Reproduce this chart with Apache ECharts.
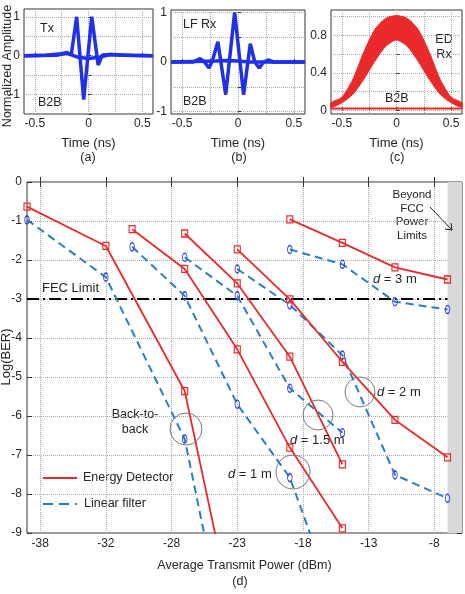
<!DOCTYPE html>
<html>
<head>
<meta charset="utf-8">
<script src="https://cdn.jsdelivr.net/npm/echarts@6/dist/echarts.min.js"></script>
<style>
  html, body { margin: 0; padding: 0; background: #fff; }
  #main { width: 465px; height: 594px; }
</style>
</head>
<body>
<div id="main"></div>
<script>
// ---- data: pulse waveforms (time in ns) ----
const txTime = [-0.6, -0.4, -0.25, -0.2, -0.16, -0.11, -0.045, 0.03, 0.09, 0.13, 0.2, 0.4, 0.6];
const txPulse = [0, 0.01, 0.05, 0.08, 0.03, 1.0, -1.13, 1.0, -0.24, 0.02, 0.03, 0.01, 0];
const txBaseTime = [-0.6, -0.3, -0.2, -0.1, 0, 0.1, 0.2, 0.3, 0.6];
const txBase = [0, 0.01, 0.06, -0.04, -0.07, -0.04, 0.03, 0.01, 0];

const lfTime = [-0.6, -0.4, -0.34, -0.3, -0.26, -0.23, -0.18, -0.11, -0.03, 0.05, 0.11, 0.15, 0.19, 0.23, 0.27, 0.32, 0.6];
const lfPulse = [0, 0, 0.07, 0, -0.12, 0.02, 0.41, -0.66, 1.0, -0.66, 0.37, 0, -0.12, 0, 0.04, 0, 0];
const lfBaseTime = [-0.6, -0.2, -0.1, 0, 0.1, 0.2, 0.6];
const lfBase = [0, 0.02, 0.03, 0.02, 0, 0, 0];

const edTime = [-0.6, -0.5, -0.4, -0.3, -0.2, -0.1, 0, 0.1, 0.2, 0.3, 0.4, 0.5, 0.6];
const edUpper = [0.08, 0.14, 0.33, 0.62, 0.86, 0.98, 1.01, 0.98, 0.86, 0.62, 0.33, 0.14, 0.08];
const edLower = [0.03, 0.08, 0.17, 0.33, 0.52, 0.68, 0.75, 0.68, 0.52, 0.33, 0.17, 0.08, 0.03];
const edBaseTime = [-0.6, 0.6];
const edBase = [0.02, 0.02];

// ---- data: Log(BER) vs transmit power (dBm) ----
const powerTicks = [-38, -33, -28, -23, -18, -13, -8];
const powerTickLabels = ['-38', '-32', '-28', '-23', '-18', '-13', '-8'];
const fecLimit = -3;

const edB2B = [[-39, -0.63], [-33, -1.64], [-27, -5.36], [-24, -10.1]];
const lfB2B = [[-39, -0.97], [-33, -2.44], [-27, -6.59], [-24, -11.5]];
const ed1m = [[-31, -1.21], [-27, -2.23], [-23, -4.29], [-19, -6.81], [-15, -8.88]];
const lf1m = [[-31, -1.66], [-27, -2.92], [-23, -5.70], [-19, -7.58], [-15, -11.3]];
const ed15m = [[-27, -1.32], [-23, -2.60], [-19, -4.48], [-15, -7.24]];
const lf15m = [[-27, -1.93], [-23, -2.92], [-19, -5.29], [-15, -6.43]];
const ed2m = [[-23, -1.73], [-19, -3.01], [-15, -4.61], [-11, -6.10], [-7, -7.06]];
const lf2m = [[-23, -2.23], [-19, -3.15], [-15, -4.44], [-11, -7.51], [-7, -8.11]];
const ed3m = [[-19, -0.96], [-15, -1.56], [-11, -2.19], [-7, -2.50]];
const lf3m = [[-19, -1.73], [-15, -2.11], [-11, -3.07], [-7, -3.27]];

const FONT = 'Liberation Sans, Arial, sans-serif';
const TXT = '#262626';
const RED = '#ea2a2a';
const BLUE_LINE = '#2a7fc4';
const BLUE_MARK = '#3344e6';
const WAVE_BLUE = '#1f30e8';

const zip = (xs, ys) => xs.map((x, i) => [x, ys[i]]);

const gridLine = { show: true, lineStyle: { type: 'dotted', color: '#aaa', width: 1 } };

function timeAxis(idx) {
  return {
    gridIndex: idx, type: 'value', min: -0.6, max: 0.6,
    name: 'Time (ns)', nameLocation: 'middle', nameGap: 23,
    nameTextStyle: { fontFamily: FONT, fontSize: 13, color: TXT },
    axisLine: { show: false },
    axisTick: { inside: true, length: 3, customValues: [-0.5, -0.25, 0, 0.25, 0.5], lineStyle: { color: '#333' } },
    axisLabel: { customValues: [-0.5, 0, 0.5], fontFamily: FONT, fontSize: 12, color: TXT, margin: 4 },
    splitLine: gridLine
  };
}

function ampAxis(idx, min, max, ticks, labels) {
  return {
    gridIndex: idx, type: 'value', min: min, max: max,
    axisLine: { show: false },
    axisTick: { inside: true, length: 3, customValues: ticks, lineStyle: { color: '#333' } },
    axisLabel: { customValues: labels, fontFamily: FONT, fontSize: 12, color: TXT, margin: 4 },
    splitLine: gridLine
  };
}

function wave(idx, data, color, width) {
  return {
    type: 'line', xAxisIndex: idx, yAxisIndex: idx, data: data,
    showSymbol: false, silent: true,
    lineStyle: { color: color, width: width }
  };
}

const ellipse = 'path://M5,0 A5,9 0 1,1 5,18 A5,9 0 1,1 5,0 Z';

function edSeries(name, data) {
  return {
    name: name, type: 'line', xAxisIndex: 3, yAxisIndex: 3, data: data,
    symbol: 'rect', symbolSize: [6, 7],
    itemStyle: { color: 'rgba(255,255,255,0)', borderColor: RED, borderWidth: 1.2 },
    lineStyle: { color: RED, width: 1.8 }, z: 4
  };
}
function lfSeries(name, data) {
  return {
    name: name, type: 'line', xAxisIndex: 3, yAxisIndex: 3, data: data,
    symbol: ellipse, symbolSize: [4.5, 8],
    itemStyle: { color: 'rgba(255,255,255,0)', borderColor: BLUE_MARK, borderWidth: 1.2 },
    lineStyle: { color: BLUE_LINE, width: 2, type: [8, 5] }, z: 3
  };
}

const text = (x, y, str, extra) => ({
  type: 'text', x: x, y: y,
  style: Object.assign({ text: str, fontFamily: FONT, fontSize: 12, fill: TXT, textVerticalAlign: 'middle' }, extra || {})
});
const ring = (cx, cy, r) => ({
  type: 'circle', shape: { cx: cx, cy: cy, r: r },
  style: { fill: 'none', stroke: '#777', lineWidth: 1 }, z: 10
});
const italicD = (x, y, rest) => ({
  type: 'text', x: x, y: y, z: 10,
  style: { text: '{i|d}' + rest, fontFamily: FONT, fontSize: 13, fill: TXT, textVerticalAlign: 'middle',
    rich: { i: { fontStyle: 'italic', fontFamily: FONT, fontSize: 13, fill: TXT } } }
});
const vtext = (x, y, str, size) => ({
  type: 'text', x: x, y: y, rotation: Math.PI / 2,
  style: { text: str, fontFamily: FONT, fontSize: size, fill: TXT, textAlign: 'center', textVerticalAlign: 'middle' }
});

const chart = echarts.init(document.getElementById('main'));

const gridBase = { show: true, borderColor: '#333', borderWidth: 1, containLabel: false, outerBoundsMode: 'none' };

chart.setOption({
  animation: false,
  backgroundColor: '#fff',
  textStyle: { fontFamily: FONT },
  grid: [
    Object.assign({ left: 24, right: 312, top: 9, bottom: 480 }, gridBase),
    Object.assign({ left: 171, right: 160, top: 10, bottom: 480 }, gridBase),
    Object.assign({ left: 331, right: 3, top: 10, bottom: 480 }, gridBase),
    Object.assign({ left: 27, right: 3, top: 182, bottom: 61 }, gridBase)
  ],
  xAxis: [
    timeAxis(0), timeAxis(1), timeAxis(2),
    {
      gridIndex: 3, type: 'value', min: -39, max: -5.9,
      name: 'Average Transmit Power (dBm)', nameLocation: 'middle', nameGap: 26,
      nameTextStyle: { fontFamily: FONT, fontSize: 12.5, color: TXT },
      axisLine: { show: false },
      axisTick: { inside: true, length: 5, customValues: powerTicks, lineStyle: { color: '#333' } },
      axisLabel: {
        customValues: powerTicks, fontFamily: FONT, fontSize: 12, color: TXT, margin: 5,
        formatter: v => powerTickLabels[powerTicks.indexOf(v)]
      },
      splitLine: gridLine
    },
    {
      gridIndex: 3, type: 'value', min: -39, max: -5.9, position: 'top',
      axisLine: { show: false },
      axisTick: { inside: true, length: 5, customValues: powerTicks, lineStyle: { color: '#333' } },
      axisLabel: { show: false }, splitLine: { show: false }
    }
  ],
  yAxis: [
    ampAxis(0, -1.5, 1.2, [-1.5, -1, -0.5, 0, 0.5, 1], [-1, 0, 1]),
    ampAxis(1, -1.05, 1.05, [-1, -0.5, 0, 0.5, 1], [-1, 0, 1]),
    ampAxis(2, -0.04, 1.07, [0, 0.2, 0.4, 0.6, 0.8, 1.0], [0, 0.4, 0.8]),
    {
      gridIndex: 3, type: 'value', min: -9, max: 0, interval: 1,
      axisLine: { show: false },
      axisTick: { inside: true, length: 5, lineStyle: { color: '#333' } },
      axisLabel: { fontFamily: FONT, fontSize: 12, color: TXT, margin: 5 },
      splitLine: gridLine
    },
    {
      gridIndex: 3, type: 'value', min: -9, max: 0, interval: 1, position: 'right',
      axisLine: { show: false },
      axisTick: { inside: true, length: 5, lineStyle: { color: '#333' } },
      axisLabel: { show: false }, splitLine: { show: false }
    }
  ],
  series: [
    wave(0, zip(txBaseTime, txBase), WAVE_BLUE, 3.5),
    wave(0, zip(txTime, txPulse), WAVE_BLUE, 3.5),
    wave(1, zip(lfBaseTime, lfBase), WAVE_BLUE, 3.5),
    wave(1, zip(lfTime, lfPulse), WAVE_BLUE, 3.5),
    {
      // eye band of the energy detector output: between lower and upper envelope
      type: 'custom', xAxisIndex: 2, yAxisIndex: 2, silent: true,
      data: edTime.map((t, i) => [t, edLower[i], edUpper[i]]),
      renderItem: function (params, api) {
        if (params.dataIndex !== 0) return null;
        const up = edTime.map((t, i) => api.coord([t, edUpper[i]]));
        const lo = edTime.map((t, i) => api.coord([t, edLower[i]])).reverse();
        return {
          type: 'polygon',
          shape: { points: up.concat(lo), smooth: 0.25 },
          style: { fill: RED, stroke: RED, lineWidth: 1 }
        };
      },
      z: 2
    },
    wave(2, zip(edBaseTime, edBase), RED, 2),
    {
      type: 'line', xAxisIndex: 3, yAxisIndex: 3, data: [[-39, fecLimit], [-7, fecLimit]],
      showSymbol: false, silent: true, z: 2,
      lineStyle: { color: '#000', width: 2, type: [12, 4, 2, 4] },
      markArea: {
        silent: true,
        itemStyle: { color: '#d9d9d9' },
        data: [[{ xAxis: -7 }, { xAxis: -5.9 }]]
      }
    },
    edSeries('ED B2B', edB2B), lfSeries('LF B2B', lfB2B),
    edSeries('ED 1 m', ed1m), lfSeries('LF 1 m', lf1m),
    edSeries('ED 1.5 m', ed15m), lfSeries('LF 1.5 m', lf15m),
    edSeries('ED 2 m', ed2m), lfSeries('LF 2 m', lf2m),
    edSeries('ED 3 m', ed3m), lfSeries('LF 3 m', lf3m)
  ],
  graphic: [
    // rotated axis titles
    vtext(8, 66, 'Normalized Amplitude', 12.5),
    vtext(6, 357, 'Log(BER)', 13),
    // top panel labels
    text(40, 29, 'Tx', { fontSize: 12.5 }),
    text(38, 103, 'B2B', { fontSize: 12.5 }),
    text(183, 25, 'LF Rx', { fontSize: 12.5 }),
    text(183, 102, 'B2B', { fontSize: 12.5 }),
    text(444, 40, 'ED', { fontSize: 12.5, textAlign: 'center' }),
    text(444, 55, 'Rx', { fontSize: 12.5, textAlign: 'center' }),
    text(385, 99, 'B2B', { fontSize: 12.5 }),
    text(88, 158, '(a)', { fontSize: 12.5, textAlign: 'center' }),
    text(239, 158, '(b)', { fontSize: 12.5, textAlign: 'center' }),
    text(397, 158, '(c)', { fontSize: 12.5, textAlign: 'center' }),
    text(240, 582, '(d)', { fontSize: 12.5, textAlign: 'center' }),
    // annotations in main chart
    text(42, 288, 'FEC Limit', { fontSize: 13 }),
    text(135, 415, 'Back-to-', { fontSize: 12.5, textAlign: 'center' }),
    text(135, 430, 'back', { fontSize: 12.5, textAlign: 'center' }),
    ring(186, 429, 16),
    ring(293, 472, 17),
    ring(318, 415, 15),
    ring(360, 392, 15),
    italicD(373, 279, ' = 3 m'),
    italicD(377, 392, ' = 2 m'),
    italicD(290, 440, ' = 1.5 m'),
    italicD(228, 474, ' = 1 m'),
    text(412, 195, 'Beyond', { fontSize: 11.5, textAlign: 'center' }),
    text(412, 209, 'FCC', { fontSize: 11.5, textAlign: 'center' }),
    text(412, 222, 'Power', { fontSize: 11.5, textAlign: 'center' }),
    text(412, 236, 'Limits', { fontSize: 11.5, textAlign: 'center' }),
    { type: 'line', shape: { x1: 430, y1: 207, x2: 452, y2: 230 }, style: { stroke: '#222', lineWidth: 1 }, z: 10 },
    { type: 'polyline', shape: { points: [[445, 229], [452, 230], [451, 223]] }, style: { stroke: '#222', fill: 'none', lineWidth: 1 }, z: 10 },
    // legend
    { type: 'line', shape: { x1: 43, y1: 478, x2: 77, y2: 478 }, style: { stroke: RED, lineWidth: 2 }, z: 10 },
    text(83, 478, 'Energy Detector', { fontSize: 12.5 }),
    { type: 'line', shape: { x1: 43, y1: 504, x2: 77, y2: 504 }, style: { stroke: BLUE_LINE, lineWidth: 2, lineDash: [10, 6] }, z: 10 },
    text(84, 504, 'Linear filter', { fontSize: 12.5 })
  ]
});
</script>
</body>
</html>
